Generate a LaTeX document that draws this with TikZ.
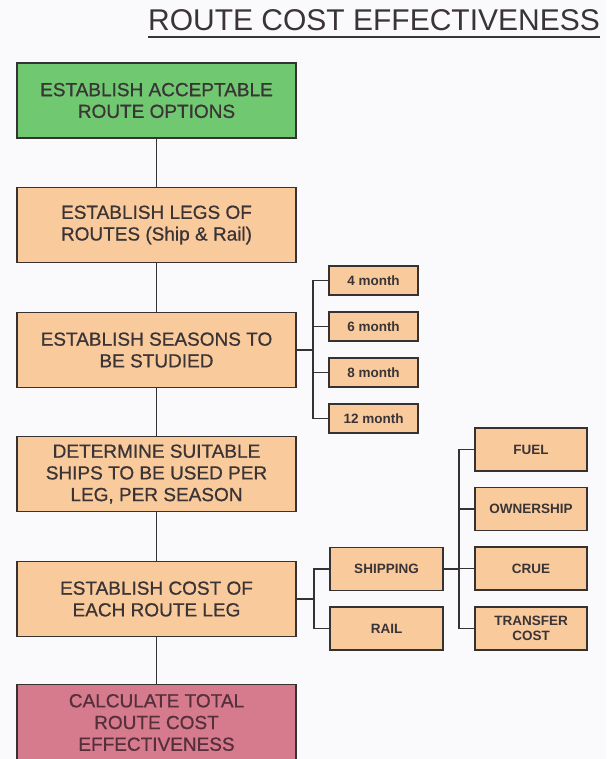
\documentclass[tikz,border=0pt]{standalone}
\usepackage{fontspec}
\setmainfont{Liberation Sans}
\newfontfamily\boxfont{Liberation Sans}[FakeBold=0.7]
\definecolor{bg}{RGB}{250,250,252}
\definecolor{greenfill}{RGB}{112,200,112}
\definecolor{peach}{RGB}{249,202,156}
\definecolor{pinkfill}{RGB}{214,122,142}
\definecolor{ink}{RGB}{58,52,54}
\definecolor{pinkink}{RGB}{85,48,58}
\definecolor{edge}{RGB}{55,50,50}
\tikzset{
  mainbox/.style={draw=edge, line width=1.8pt, minimum width=279pt, minimum height=75pt,
    inner sep=0pt, align=center, text=ink, font=\boxfont\fontsize{19}{21.7}\selectfont},
  smallbox/.style={draw=edge, fill=peach, line width=1.8pt, inner sep=0pt, align=center,
    text=ink, font=\fontsize{13.5}{15.5}\selectfont\bfseries},
  monthbox/.style={smallbox, minimum width=89pt, minimum height=29pt},
  costbox/.style={smallbox, minimum width=112pt, minimum height=43pt},
  modebox/.style={smallbox, minimum width=113pt, minimum height=43pt},
  link/.style={draw=edge, line width=1.8pt}
}
\begin{document}
\begin{tikzpicture}[x=1pt,y=-1pt]
\useasboundingbox (0,0) rectangle (606,759);
\fill[bg] (0,0) rectangle (606,759);
% title
\node[text=ink, font=\fontsize{30}{34}\selectfont, inner sep=0pt, anchor=base] (title) at (374,31)
  {ROUTE COST EFFECTIVENESS};
\draw[ink, line width=1.3pt] (title.west |- 0,37) -- (title.east |- 0,37);
% main column
\node[mainbox, fill=greenfill] (b1) at (156.5,100.5) {ESTABLISH ACCEPTABLE\\ROUTE OPTIONS};
\node[mainbox, fill=peach] (b2) at (156.5,225) {ESTABLISH LEGS OF\\ROUTES (Ship \& Rail)};
\node[mainbox, fill=peach] (b3) at (156.5,350) {ESTABLISH SEASONS TO\\BE STUDIED};
\node[mainbox, fill=peach] (b4) at (156.5,474) {DETERMINE SUITABLE\\SHIPS TO BE USED PER\\LEG, PER SEASON};
\node[mainbox, fill=peach] (b5) at (156.5,599) {ESTABLISH COST OF\\EACH ROUTE LEG};
\node[mainbox, fill=pinkfill, minimum height=76pt, text=pinkink] (b6) at (156.5,722.5)
  {CALCULATE TOTAL\\ROUTE COST\\EFFECTIVENESS};
\draw[link] (b1.south) -- (b2.north);
\draw[link] (b2.south) -- (b3.north);
\draw[link] (b3.south) -- (b4.north);
\draw[link] (b4.south) -- (b5.north);
\draw[link] (b5.south) -- (b6.north);
% months
\node[monthbox] (m4) at (373.5,280.5) {4 month};
\node[monthbox] (m6) at (373.5,326.5) {6 month};
\node[monthbox] (m8) at (373.5,372.5) {8 month};
\node[monthbox] (m12) at (373.5,418.5) {12 month};
\coordinate (busA) at (313,350);
\draw[link] (b3.east |- busA) -- (busA);
\draw[link] (m4.west) -| (busA) |- (m12.west);
\draw[link] (busA |- m6.west) -- (m6.west);
\draw[link] (busA |- m8.west) -- (m8.west);
% cost split
\node[modebox] (ship) at (386.5,569) {SHIPPING};
\node[modebox] (rail) at (386.5,628.5) {RAIL};
\coordinate (busB) at (314,599);
\draw[link] (b5.east |- busB) -- (busB);
\draw[link] (ship.west) -| (busB) |- (rail.west);
% shipping costs
\node[costbox] (fuel) at (531,449.5) {FUEL};
\node[costbox] (own) at (531,509) {OWNERSHIP};
\node[costbox] (crue) at (531,568.5) {CRUE};
\node[costbox] (trans) at (531,628.5) {TRANSFER\\COST};
\coordinate (busC) at (459,569);
\draw[link] (ship.east) -- (busC);
\draw[link] (fuel.west) -| (busC) |- (trans.west);
\draw[link] (busC |- own.west) -- (own.west);
\draw[link] (busC |- crue.west) -- (crue.west);
\end{tikzpicture}
\end{document}
